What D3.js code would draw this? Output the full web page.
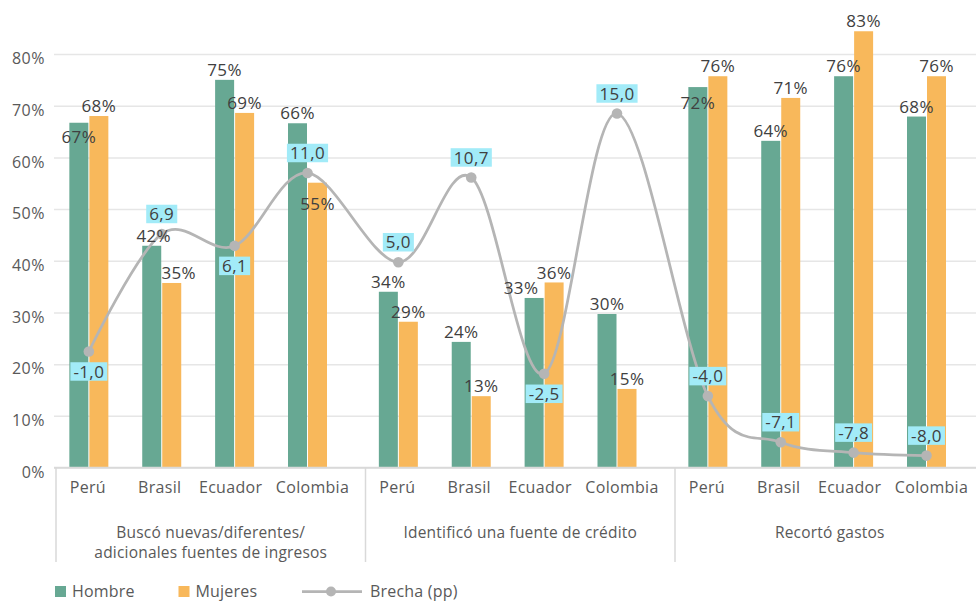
<!DOCTYPE html>
<html>
<head>
<meta charset="utf-8">
<script src="https://cdn.jsdelivr.net/npm/d3@7"></script>
<style>
  html, body { margin: 0; padding: 0; background: #ffffff; }
  svg { display: block; font-family: "Open Sans", "Noto Sans", sans-serif; }
</style>
</head>
<body>
<svg id="chart" width="976" height="603"></svg>
<script>
// ---------------- DATA ----------------
const groupLabels = [
  ["Buscó nuevas/diferentes/", "adicionales fuentes de ingresos"],
  ["Identificó una fuente de crédito"],
  ["Recortó gastos"]
];
const countries = ["Perú", "Brasil", "Ecuador", "Colombia"];
const hombre  = [66.7, 42.9, 75.0, 66.6, 34.0, 24.3, 32.8, 29.7, 73.6, 63.2, 75.7, 67.9];
const mujeres = [68.0, 35.7, 68.6, 55.1, 28.2, 13.8, 35.8, 15.2, 75.7, 71.5, 84.4, 75.7];
const hombreLabels  = ["67%", "42%", "75%", "66%", "34%", "24%", "33%", "30%", "72%", "64%", "76%", "68%"];
const mujeresLabels = ["68%", "35%", "69%", "55%", "29%", "13%", "36%", "15%", "76%", "71%", "83%", "76%"];
const brecha  = [-1.0, 6.9, 6.1, 11.0, 5.0, 10.7, -2.5, 15.0, -4.0, -7.1, -7.8, -8.0];
const yTicks  = [0, 10, 20, 30, 40, 50, 60, 70, 80];
const seriesNames = ["Hombre", "Mujeres", "Brecha (pp)"];

// ---------------- LAYOUT / STYLE ----------------
const colors = { H: "#67A893", M: "#F8B85B", line: "#B5B5B5", box: "#A2EBF8", text: "#404040", axis: "#595959", grid: "#E6E6E6", axisLine: "#D9D9D9" };
// label nudges (dx, dy) relative to default position (centered, 10px above bar top)
const labelNudge = {
  H: { 0: [0, 24], 1: [2, 0], 6: [-13, 0], 8: [0, 25.5] },
  M: { 1: [7, 0], 3: [0, 31.6] }
};
const catLabelNudge = [-1, -2, -4, 5];
const brechaLabelSide = ["below", "above", "below", "above", "above", "above", "below", "above", "above", "above", "above", "above"];

const svg = d3.select("#chart");
const plotLeft = 54, plotRight = 976, y0 = 467.5, yTop = 54;

const y = d3.scaleLinear().domain([0, 80]).range([y0, yTop]);
const y2 = d3.scaleLinear().domain([-8.8, 19]).range([y0, yTop]);
const groupStep = 309.5;
const xGroup = d3.scaleBand().domain(d3.range(groupLabels.length)).range([56, 56 + groupStep * groupLabels.length]);
const xInner = d3.scalePoint().domain(countries).range([32.85, 251.5]);
const xSeries = d3.scaleBand().domain(["H", "M"]).range([-19.5, 19.5]).paddingInner(0.05);

const idx = d3.range(hombre.length);
const cx = i => xGroup(Math.floor(i / countries.length)) + xInner(countries[i % countries.length]);

// ---------------- GRID + Y AXIS ----------------
const yAxis = d3.axisLeft(y).tickValues(yTicks).tickFormat(d => d + "%")
  .tickSize(-(plotRight - plotLeft)).tickSizeOuter(0).tickPadding(9);
const gy = svg.append("g").attr("transform", `translate(${plotLeft},0)`).call(yAxis);
gy.select(".domain").remove();
gy.selectAll(".tick line").attr("stroke", d => d === 0 ? colors.axisLine : colors.grid).attr("stroke-width", 1.5);
gy.selectAll(".tick text").attr("fill", colors.axis).attr("font-size", 16).attr("y", 4.5)
  .attr("font-family", "Open Sans").style("letter-spacing", "0.5px");

// ---------------- BARS ----------------
const bars = svg.append("g");
bars.selectAll("rect.h").data(idx).join("rect")
  .attr("class", "h")
  .attr("x", i => cx(i) + xSeries("H")).attr("width", xSeries.bandwidth())
  .attr("y", i => y(hombre[i])).attr("height", i => y0 - y(hombre[i]))
  .attr("fill", colors.H);
bars.selectAll("rect.m").data(idx).join("rect")
  .attr("class", "m")
  .attr("x", i => cx(i) + xSeries("M")).attr("width", xSeries.bandwidth())
  .attr("y", i => y(mujeres[i])).attr("height", i => y0 - y(mujeres[i]))
  .attr("fill", colors.M);

// ---------------- X AXIS (multi-level) ----------------
const gx = svg.append("g");
gx.append("line").attr("x1", plotLeft).attr("x2", plotRight).attr("y1", y0).attr("y2", y0)
  .attr("stroke", colors.axisLine).attr("stroke-width", 1.5);
d3.range(groupLabels.length + 1).forEach(g => {
  const xx = 56 + g * groupStep;
  gx.append("line").attr("x1", xx).attr("x2", xx).attr("y1", y0).attr("y2", 562)
    .attr("stroke", colors.axisLine).attr("stroke-width", 1.5);
});
gx.selectAll("text.cat").data(idx).join("text")
  .attr("class", "cat")
  .attr("x", i => cx(i) + catLabelNudge[i % countries.length]).attr("y", 493)
  .attr("text-anchor", "middle").attr("font-size", 16).attr("fill", colors.axis)
  .style("letter-spacing", "0.3px")
  .text(i => countries[i % countries.length]);
groupLabels.forEach((lines, g) => {
  const gxC = xGroup(g) + xGroup.bandwidth() / 2;
  lines.forEach((ln, k) => {
    gx.append("text").attr("x", gxC).attr("y", 537.5 + k * 20.5)
      .attr("text-anchor", "middle").attr("font-size", 15.5).attr("fill", colors.axis)
      .style("letter-spacing", "0.2px").text(ln);
  });
});

// ---------------- BRECHA LINE ----------------
const line = d3.line().x(i => cx(i)).y(i => y2(brecha[i])).curve(d3.curveCardinal.tension(0));
svg.append("path").attr("d", line(idx)).attr("fill", "none")
  .attr("stroke", colors.line).attr("stroke-width", 2.75);
svg.append("g").selectAll("circle").data(idx).join("circle")
  .attr("cx", i => cx(i)).attr("cy", i => y2(brecha[i])).attr("r", 5.3)
  .attr("fill", colors.line);

// ---------------- BAR LABELS ----------------
const lab = svg.append("g").attr("font-size", 17).attr("fill", colors.text)
  .attr("text-anchor", "middle").style("letter-spacing", "0.4px");
function barLabel(key, vals, texts) {
  lab.selectAll("text." + key).data(idx).join("text")
    .attr("class", key)
    .attr("x", i => cx(i) + xSeries(key) + xSeries.bandwidth() / 2 + ((labelNudge[key][i] || [0, 0])[0]))
    .attr("y", i => y(vals[i]) - 10 + ((labelNudge[key][i] || [0, 0])[1]))
    .attr("dy", "0.36em")
    .text(i => texts[i]);
}
barLabel("H", hombre, hombreLabels);
barLabel("M", mujeres, mujeresLabels);

// ---------------- BRECHA LABELS ----------------
const fmt = v => v.toFixed(1).replace(".", ",");
const bl = svg.append("g");
idx.forEach(i => {
  const px = cx(i), py = y2(brecha[i]);
  const ly = brechaLabelSide[i] === "above" ? py - 20 : py + 20;
  const g = bl.append("g");
  const t = g.append("text").attr("x", px).attr("y", ly).attr("dy", "0.36em")
    .attr("text-anchor", "middle").attr("font-size", 17).attr("fill", colors.text)
    .style("letter-spacing", "0.4px").text(fmt(brecha[i]));
  const bb = t.node().getBBox();
  g.insert("rect", "text").attr("x", bb.x - 3).attr("y", ly - 9.25)
    .attr("width", bb.width + 6).attr("height", 18.5).attr("fill", colors.box);
});

// ---------------- LEGEND ----------------
const lg = svg.append("g").attr("font-size", 16).attr("fill", colors.axis).style("letter-spacing", "0.2px");
lg.append("rect").attr("x", 55).attr("y", 586).attr("width", 11).attr("height", 11).attr("fill", colors.H);
lg.append("text").attr("x", 72).attr("y", 591.5).attr("dy", "0.36em").text(seriesNames[0]);
lg.append("rect").attr("x", 178.5).attr("y", 586).attr("width", 11).attr("height", 11).attr("fill", colors.M);
lg.append("text").attr("x", 195.5).attr("y", 591.5).attr("dy", "0.36em").text(seriesNames[1]);
lg.append("line").attr("x1", 302).attr("x2", 362).attr("y1", 591.5).attr("y2", 591.5)
  .attr("stroke", colors.line).attr("stroke-width", 2.75);
lg.append("circle").attr("cx", 331).attr("cy", 591.5).attr("r", 5).attr("fill", colors.line);
lg.append("text").attr("x", 370).attr("y", 591.5).attr("dy", "0.36em").text(seriesNames[2]);
</script>
</body>
</html>
